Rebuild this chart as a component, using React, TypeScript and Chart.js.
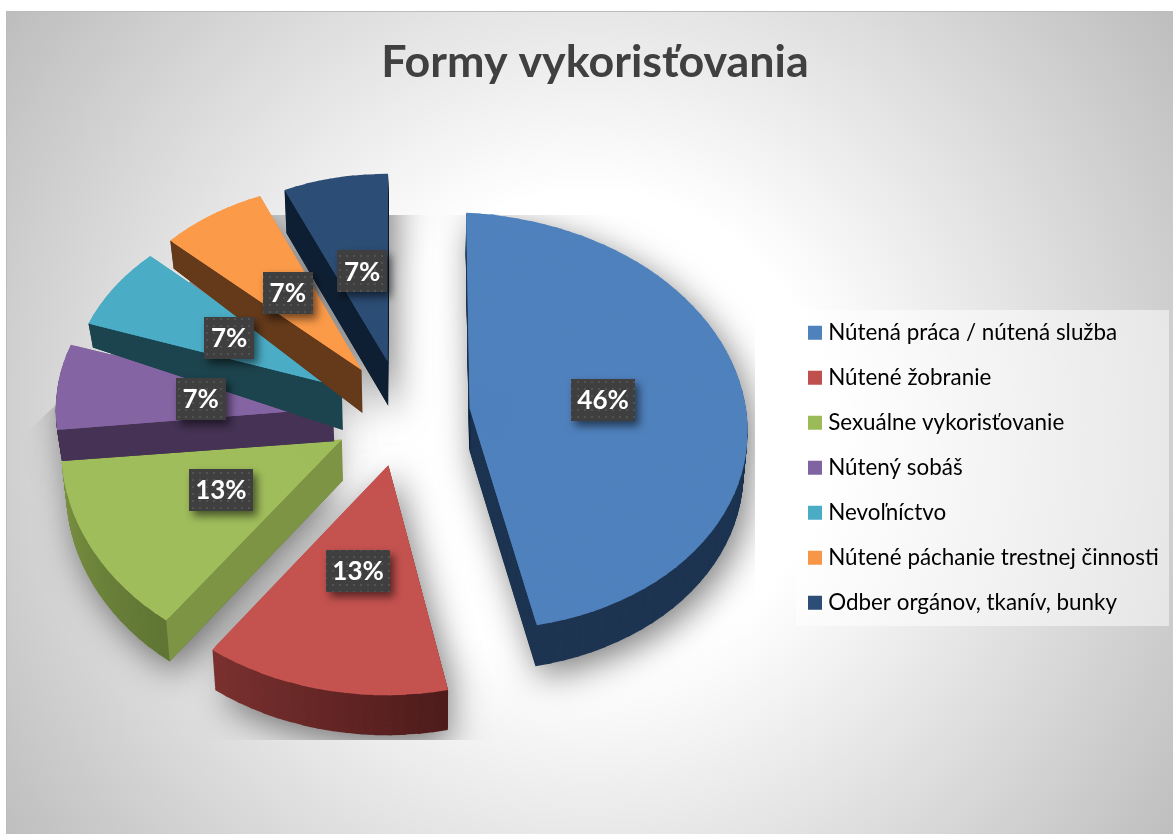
import React, { useEffect, useRef } from "react";
import { Chart, registerables } from "chart.js";

Chart.register(...registerables);

const chartTitle = "Formy vykorisťovania";
const categories = [
  "Nútená práca / nútená služba",
  "Nútené žobranie",
  "Sexuálne vykorisťovanie",
  "Nútený sobáš",
  "Nevoľníctvo",
  "Nútené páchanie trestnej činnosti",
  "Odber orgánov, tkanív, bunky",
];
const shares = [46, 13, 13, 7, 7, 7, 7];
const topColors = ["#4f81bd", "#c4524f", "#9fbd5b", "#8464a2", "#4bacc6", "#fb9a48", "#2c4d75"];
const legendColors = ["#4f81bd", "#c0504d", "#9bbb59", "#8064a2", "#4bacc6", "#f79646", "#2c4d75"];
// outer wall colour at the start and at the end of each slice's arc
const wallStart = ["#1e3552", "#4f1c1c", "#5f7535", "#453254", "#1c444e", "#653a1a", "#0f1f33"];
const wallEnd = ["#1e3552", "#7b3230", "#7d9444", "#453254", "#1c444e", "#653a1a", "#0f1f33"];
const faceColors = ["#1e3552", "#4f1c1c", "#7d9444", "#453254", "#1c444e", "#653a1a", "#0f1f33"];
const labelReach = [0.49, 0.44, 0.44, 0.49, 0.5, 0.5, 0.49];
const labelShiftX = [3, -3, -13, 4, 6, 5, 0];
const labelShiftY = [-1, 13, 4, 2, 3, 4, 3];
const wallAtApex = [42, 41, 41, 33, 43, 43, 44];
const wallAtRim = [41, 40, 41, 31, 24, 28, 43];
// small per-slice corrections to the camera, in pixels
const apexShiftX = [3, 3, 2, 3, 3, 3, 2];
const apexShiftY = [1, 3, 2, 2, 2, 1, 1];
const rimStartX = [-3, -3, -3, 1, 3, 2, -2];
const rimStartY = [-4, -2, 0, -3, -1, 1, 1];
const rimEndX = [-1, -4, -1, -4, 2, -1, -6];
const rimEndY = [-2, 1, -4, 0, 2, 0, -3];
const rimBulgeX = [6, 0, 0, 0, 0, 0, 0];

const PIE_RADIUS = 277;
const EXPLODE = 0.25;
const SWEEP = 44;
// perspective camera: pie plane (unit radius) to page pixels
const CAM = [272.2948, -40.1542, 398.3472, 9.8654, 173.4294, 410.8152, -0.0058, -0.0801];

function project(u: number, v: number, t: number, height: number, nx = 0, ny = 0) {
  const w = CAM[6] * u + CAM[7] * v + 1;
  const x = (CAM[0] * u + CAM[1] * v + CAM[2]) / w + nx;
  const y = (CAM[3] * u + CAM[4] * v + CAM[5]) / w + ny;
  return [430 + (x - 430) * (1 - 0.013 * t), y + height * t];
}

function mixHex(a: string, b: string, f: number) {
  const p = (s: string, i: number) => parseInt(s.slice(i, i + 2), 16);
  const c = [1, 3, 5].map((i) => Math.round(p(a, i) + (p(b, i) - p(a, i)) * f));
  return `rgb(${c[0]},${c[1]},${c[2]})`;
}

function sliceGeom(el: any) {
  const h = (el.startAngle + el.endAngle) / 2;
  return { h, wx: EXPLODE * Math.cos(h), wy: EXPLODE * Math.sin(h) };
}

function apexPoint(el: any, i: number, t: number) {
  const g = sliceGeom(el);
  return project(g.wx, g.wy, t, wallAtApex[i], apexShiftX[i], apexShiftY[i]);
}

function rimPoint(el: any, i: number, a: number, t: number, scale = 1) {
  const g = sliceGeom(el);
  const f = (a - el.startAngle) / (el.endAngle - el.startAngle);
  const nx = rimStartX[i] + (rimEndX[i] - rimStartX[i]) * f + rimBulgeX[i] * 4 * f * (1 - f);
  const ny = rimStartY[i] + (rimEndY[i] - rimStartY[i]) * f;
  return project(g.wx + scale * Math.cos(a), g.wy + scale * Math.sin(a), t, wallAtRim[i], nx, ny);
}

function paintWedges(ctx: CanvasRenderingContext2D, el: any, i0: number, t: number, colorAt: (f: number) => string) {
  const R = el.outerRadius;
  const span = el.endAngle - el.startAngle;
  const n = Math.max(2, Math.ceil(span / 0.05));
  const d = 0.006;
  const S0 = apexPoint(el, i0, t);
  for (let i = 0; i < n; i++) {
    const a0 = el.startAngle + (span * i) / n;
    const a1 = el.startAngle + (span * (i + 1)) / n;
    const S1 = rimPoint(el, i0, a0, t);
    const S2 = rimPoint(el, i0, a1, t);
    const L1 = [R * Math.cos(a0), R * Math.sin(a0)];
    const L2 = [R * Math.cos(a1), R * Math.sin(a1)];
    const det = L1[0] * L2[1] - L2[0] * L1[1];
    const d1 = [S1[0] - S0[0], S1[1] - S0[1]];
    const d2 = [S2[0] - S0[0], S2[1] - S0[1]];
    const A = (d1[0] * L2[1] - d2[0] * L1[1]) / det;
    const C = (d2[0] * L1[0] - d1[0] * L2[0]) / det;
    const B = (d1[1] * L2[1] - d2[1] * L1[1]) / det;
    const D = (d2[1] * L1[0] - d1[1] * L2[0]) / det;
    const E = S0[0] - A * el.x - C * el.y;
    const F = S0[1] - B * el.x - D * el.y;
    const q0 = rimPoint(el, i0, a0 - d, t);
    const q1 = rimPoint(el, i0, a1 + d, t);
    ctx.save();
    ctx.beginPath();
    ctx.moveTo(S0[0], S0[1]);
    ctx.lineTo(S0[0] + 1.5 * (q0[0] - S0[0]), S0[1] + 1.5 * (q0[1] - S0[1]));
    ctx.lineTo(S0[0] + 1.5 * (q1[0] - S0[0]), S0[1] + 1.5 * (q1[1] - S0[1]));
    ctx.closePath();
    ctx.clip();
    ctx.transform(A, B, C, D, E, F);
    const proxy = Object.create(el, {
      options: { value: { ...el.options, backgroundColor: colorAt((i + 0.5) / n) } },
    });
    el.draw.call(proxy, ctx);
    ctx.restore();
  }
}

function slicePolygon(el: any, i0: number, t: number, path: Path2D, shift: number, shrink = 1) {
  const s = apexPoint(el, i0, t);
  path.moveTo(s[0] + shift, s[1]);
  const steps = 30;
  for (let i = 0; i <= steps; i++) {
    const a = el.startAngle + ((el.endAngle - el.startAngle) * i) / steps;
    const p = rimPoint(el, i0, a, t, shrink);
    path.lineTo(p[0] + shift, p[1]);
  }
  path.closePath();
}

function dotPattern(ctx: CanvasRenderingContext2D) {
  const c = document.createElement("canvas");
  c.width = 14;
  c.height = 14;
  const p = c.getContext("2d")!;
  p.fillStyle = "#3f3f3f";
  p.fillRect(0, 0, 14, 14);
  p.fillStyle = "#525252";
  p.fillRect(3, 3, 2, 2);
  p.fillRect(10, 3, 2, 2);
  p.fillRect(3, 10, 2, 2);
  p.fillRect(10, 10, 2, 2);
  return ctx.createPattern(c, "repeat")!;
}

const piePlugin = {
  id: "pie3d",
  afterLayout(chart: any) {
    chart.titleBlock.left = 17;
    chart.titleBlock.right = 1173;
    const lg = chart.legend;
    lg.left = 790.4;
    lg.right = 1173;
    lg.top = 299;
    lg.bottom = 640;
  },
  beforeDraw(chart: any) {
    const ctx: CanvasRenderingContext2D = chart.ctx;
    const W = chart.width;
    const H = chart.height;
    ctx.save();
    ctx.fillStyle = "#ffffff";
    ctx.fillRect(0, 0, W, H);
    const grad = ctx.createRadialGradient(590, 430, 0, 590, 430, 720);
    grad.addColorStop(0, "#ffffff");
    grad.addColorStop(0.33, "#ffffff");
    grad.addColorStop(1, "#bdbdbd");
    ctx.fillStyle = grad;
    ctx.fillRect(6, 11, W - 6, H - 11);
    ctx.fillStyle = "#bcbcbc";
    ctx.fillRect(6, 11, W - 6, 1);
    ctx.fillRect(6, 11, 1, H - 11);
    ctx.fillStyle = "rgba(255,255,255,0.5)";
    ctx.fillRect(796, 310, 373, 316);
    ctx.restore();
  },
  beforeDatasetsDraw(chart: any) {
    const ctx: CanvasRenderingContext2D = chart.ctx;
    const arcs = chart.getDatasetMeta(0).data;
    // soft shadows, clipped to the plot box without its upper left corner
    ctx.save();
    ctx.beginPath();
    ctx.moveTo(262, 215);
    ctx.lineTo(755, 215);
    ctx.lineTo(755, 740);
    ctx.lineTo(18, 740);
    ctx.lineTo(18, 440);
    ctx.closePath();
    ctx.clip();
    const far = 3000;
    arcs.forEach((el: any, i: number) => {
      const path = new Path2D();
      slicePolygon(el, i, 0, path, -far);
      slicePolygon(el, i, 1, path, -far);
      ctx.save();
      ctx.shadowColor = "rgba(0,0,0,0.5)";
      ctx.shadowBlur = 34;
      ctx.shadowOffsetX = far + 6;
      ctx.shadowOffsetY = 10;
      ctx.fillStyle = "#000";
      ctx.fill(path);
      ctx.restore();
    });
    ctx.restore();
    // walls and tops, in data order
    arcs.forEach((el: any, i: number) => {
      for (let k = SWEEP; k >= 1; k--) {
        paintWedges(ctx, el, i, k / SWEEP, (f) => mixHex(wallStart[i], wallEnd[i], f));
      }
      const a = el.startAngle;
      const s0 = apexPoint(el, i, 0);
      const s1 = rimPoint(el, i, a, 0);
      const b1 = rimPoint(el, i, a, 1);
      const b0 = apexPoint(el, i, 1);
      ctx.fillStyle = faceColors[i];
      ctx.beginPath();
      ctx.moveTo(s0[0], s0[1]);
      ctx.lineTo(s1[0], s1[1]);
      ctx.lineTo(b1[0], b1[1]);
      ctx.lineTo(b0[0], b0[1]);
      ctx.closePath();
      ctx.fill();
      // underlay that hides hairlines between the wedge pieces
      const under = new Path2D();
      slicePolygon(el, i, 0, under, 0, 0.985);
      ctx.fillStyle = topColors[i];
      ctx.fill(under);
      paintWedges(ctx, el, i, 0, () => topColors[i]);
    });
    // value labels
    const pattern = dotPattern(ctx);
    ctx.font = "bold 26px Lato";
    ctx.textAlign = "center";
    ctx.textBaseline = "middle";
    arcs.forEach((el: any, i: number) => {
      const g = sliceGeom(el);
      const r = labelReach[i];
      const p = project(g.wx + r * Math.cos(g.h), g.wy + r * Math.sin(g.h), 0, 0, labelShiftX[i], labelShiftY[i]);
      const text = shares[i] + "%";
      const bw = shares[i] >= 10 ? 64 : 50;
      const bh = 42;
      ctx.save();
      ctx.shadowColor = "rgba(0,0,0,0.55)";
      ctx.shadowBlur = 8;
      ctx.shadowOffsetX = 4;
      ctx.shadowOffsetY = 5;
      ctx.fillStyle = pattern;
      ctx.fillRect(Math.round(p[0] - bw / 2), Math.round(p[1] - bh / 2), bw, bh);
      ctx.restore();
      ctx.fillStyle = "#ffffff";
      ctx.fillText(text, p[0], p[1] + 1);
    });
  },
  beforeDatasetDraw() {
    return false;
  },
};

export default function App() {
  const ref = useRef<HTMLCanvasElement>(null);
  useEffect(() => {
    document.body.style.margin = "0";
    const chart = new Chart(ref.current!, {
      type: "pie",
      data: {
        labels: categories,
        datasets: [{ data: shares, backgroundColor: legendColors, borderWidth: 0, offset: 0 } as any],
      },
      options: {
        responsive: false,
        animation: false,
        radius: PIE_RADIUS,
        events: [],
        plugins: {
          tooltip: { enabled: false },
          title: {
            display: true,
            text: chartTitle,
            color: "#404040",
            font: { family: "Lato", size: 44.8, weight: "bold", lineHeight: 1.2 },
            padding: { top: 36, bottom: 0 },
          },
          legend: {
            display: true,
            position: "right",
            align: "start",
            labels: {
              color: "#404040",
              font: { family: "Lato", size: 22.4 },
              boxWidth: 4,
              boxHeight: 4,
              padding: 22.6,
              generateLabels() {
                return categories.map((name, i) => ({
                  text: name,
                  fillStyle: legendColors[i],
                  strokeStyle: legendColors[i],
                  lineWidth: 10,
                  lineJoin: "miter",
                  hidden: false,
                  index: i,
                }));
              },
            },
          },
        },
      } as any,
      plugins: [piePlugin as any],
    });
    return () => chart.destroy();
  }, []);
  return <canvas ref={ref} width={1173} height={834} style={{ display: "block" }} />;
}
